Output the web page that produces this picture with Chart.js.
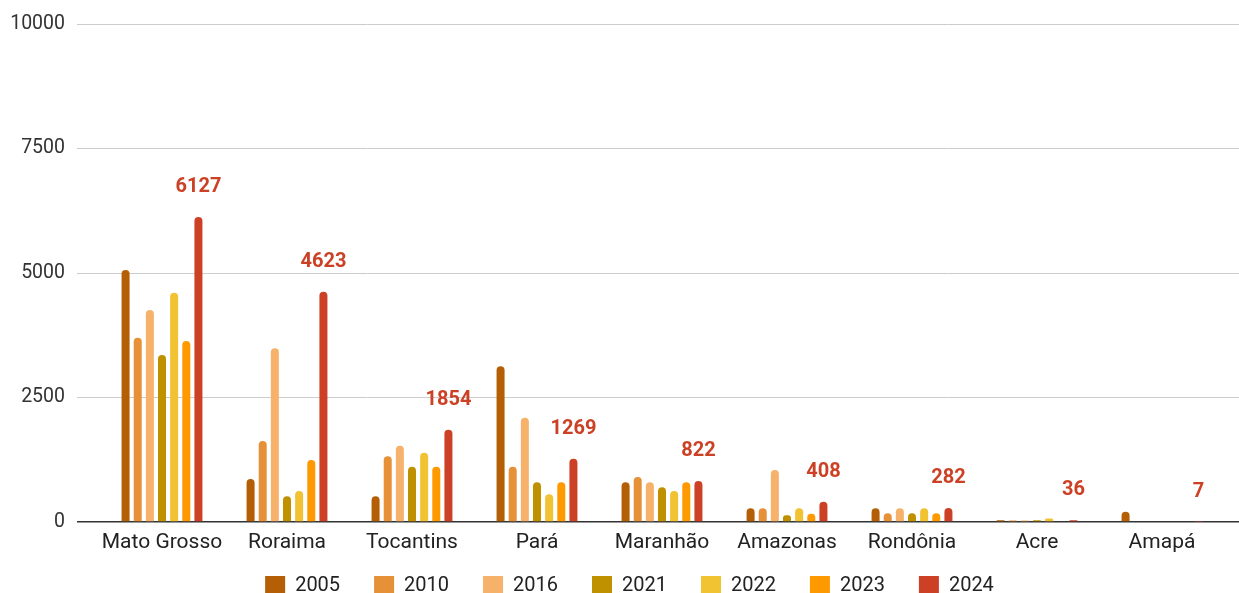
<!DOCTYPE html>
<html>
<head>
<meta charset="utf-8">
<script src="https://cdn.jsdelivr.net/npm/chart.js@4.4.1/dist/chart.umd.min.js"></script>
<style>
    html, body { margin: 0; padding: 0; background: #fff; }
    #wrap { width: 1239px; height: 593px; position: relative; }
</style>
</head>
<body>
<div id="wrap"><canvas id="chart"></canvas></div>
<script>
// Data
const states = ['Mato Grosso', 'Roraima', 'Tocantins', 'Pará', 'Maranhão', 'Amazonas', 'Rondônia', 'Acre', 'Amapá'];
const years = ['2005', '2010', '2016', '2021', '2022', '2023', '2024'];
const yearColors = ['#b45f06', '#e69138', '#f6b26b', '#bf9000', '#f1c232', '#ff9900', '#cc4125'];

const v2005 = [5060, 865, 515, 3130, 800, 275, 275, 36, 207];
const v2010 = [3700, 1625, 1320, 1110, 905, 275, 175, 30, null];
const v2016 = [4255, 3490, 1530, 2095, 800, 1045, 275, 30, null];
const v2021 = [3355, 515, 1110, 800, 700, 135, 175, 36, null];
const v2022 = [4605, 620, 1390, 555, 620, 275, 275, 70, null];
const v2023 = [3635, 1245, 1110, 800, 800, 165, 175, null, null];
const v2024 = [6127, 4623, 1854, 1269, 822, 408, 282, 36, 7];

const yTicks = [0, 2500, 5000, 7500, 10000];

const seriesValues = [v2005, v2010, v2016, v2021, v2022, v2023, v2024];

// Red value labels above the 2024 bars
const valueLabels = {
    id: 'valueLabels',
    afterDatasetsDraw(chart) {
        const idx = years.indexOf('2024');
        const meta = chart.getDatasetMeta(idx);
        const ctx = chart.ctx;
        ctx.save();
        ctx.font = 'bold 20px Roboto';
        ctx.fillStyle = '#cc4125';
        ctx.textAlign = 'center';
        ctx.textBaseline = 'middle';
        meta.data.forEach((bar, i) => {
            const v = v2024[i];
            if (v === null) return;
            ctx.fillText(String(v), bar.x, bar.y - 30);
        });
        ctx.restore();
    }
};

// axis boxes are kept thin, so let their labels spill over
const noLabelClip = (scale) => { scale._computeLabelArea = () => null; };

new Chart(document.getElementById('chart'), {
    type: 'bar',
    data: {
        datasets: years.map((y, k) => ({
            label: y,
            data: seriesValues[k].map((v, i) => ({ x: i, y: v })),
            backgroundColor: yearColors[k],
            borderRadius: { topLeft: 4, topRight: 4 },
            borderSkipped: 'bottom',
            categoryPercentage: 0.68,
            barPercentage: 0.66
        }))
    },
    options: {
        responsive: true,
        maintainAspectRatio: false,
        animation: false,
        layout: { padding: { top: 24, left: 20, right: 0, bottom: -13 } },
        plugins: {
            legend: {
                position: 'bottom',
                labels: {
                    boxWidth: 20,
                    boxHeight: 20,
                    padding: 34,
                    color: '#222',
                    font: { family: 'Roboto', size: 20 }
                }
            },
            tooltip: { enabled: false }
        },
        scales: {
            x: {
                type: 'linear',
                offset: false,
                min: -0.68,
                max: 8.616,
                grid: { display: false, drawTicks: false },
                border: { display: false },
                afterBuildTicks: (scale) => {
                    scale.ticks = states.map((s, i) => ({ value: i }));
                },
                afterFit: (scale) => {
                    scale.height = 20;
                    noLabelClip(scale);
                },
                ticks: {
                    autoSkip: false,
                    maxRotation: 0,
                    padding: 8,
                    color: '#222',
                    font: { family: 'Roboto', size: 21 },
                    callback: (v) => states[v]
                }
            },
            y: {
                min: 0,
                max: 10000,
                afterBuildTicks: (scale) => {
                    scale.ticks = yTicks.map(v => ({ value: v }));
                },
                afterFit: (scale) => {
                    scale.width = 57;
                    noLabelClip(scale);
                },
                border: { display: false },
                grid: {
                    drawTicks: false,
                    color: (c) => c.tick && c.tick.value === 0 ? '#333' : '#cccccc',
                    lineWidth: (c) => c.tick && c.tick.value === 0 ? 1.5 : 1
                },
                ticks: {
                    padding: 12,
                    color: '#333',
                    font: { family: 'Roboto', size: 19.5 },
                    callback: (v) => String(v)
                }
            }
        }
    },
    plugins: [valueLabels]
});
</script>
</body>
</html>
